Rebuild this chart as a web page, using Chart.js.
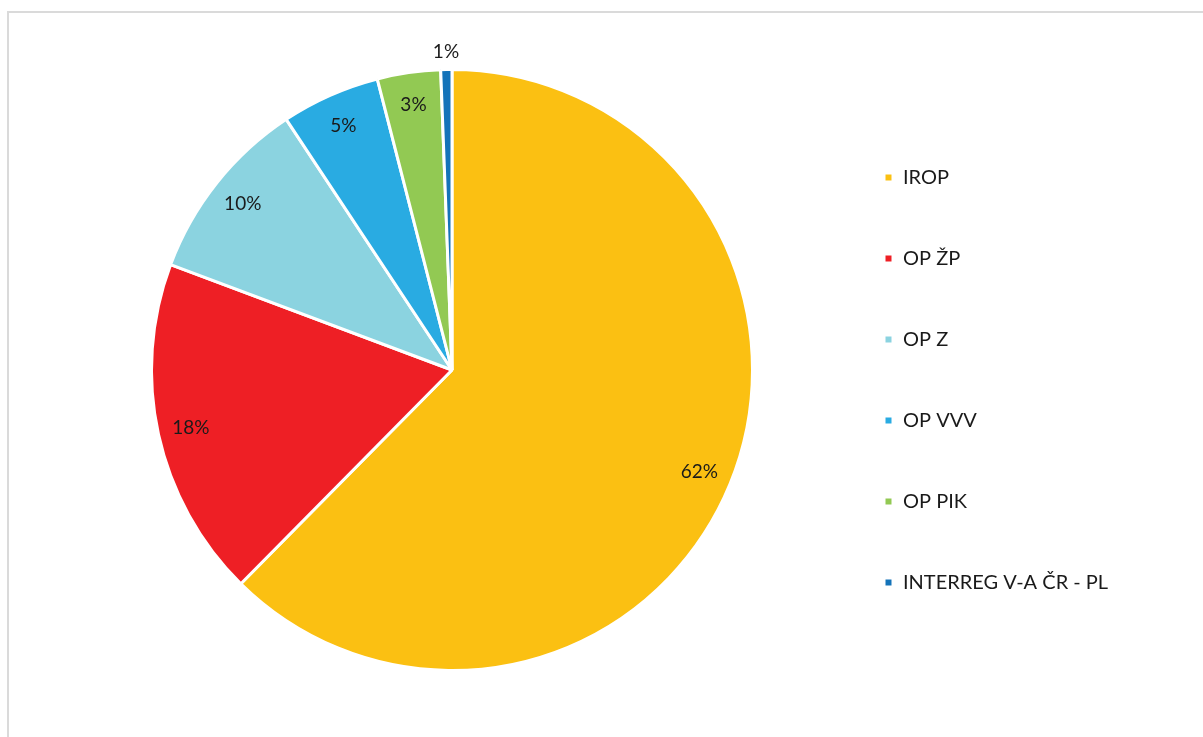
<!DOCTYPE html>
<html>
<head>
<meta charset="utf-8">
<script src="https://cdn.jsdelivr.net/npm/chart.js@4.4.1/dist/chart.umd.min.js"></script>
<style>
  html, body { margin: 0; padding: 0; background: #fff; overflow: hidden; }
  #frame { position: absolute; left: 7px; top: 11px; width: 1300px; height: 800px;
           border-top: 2px solid #dadada; border-left: 2px solid #dadada; }
  #wrap { position: absolute; left: 0; top: 0; width: 1203px; height: 737px; }
</style>
</head>
<body>
<div id="frame"></div>
<div id="wrap"><canvas id="chart"></canvas></div>
<script>
// shares of allocated funds by programme (%)
const programs = ['IROP', 'OP ŽP', 'OP Z', 'OP VVV', 'OP PIK', 'INTERREG V-A ČR - PL'];
const shares = [62.4, 18.3, 10.0, 5.3, 3.4, 0.6];
const sliceColors = ['#fbc012', '#ee1f25', '#8bd3e0', '#29abe2', '#92c953', '#1473b9'];

const FONT = 'Lato, "Open Sans", sans-serif';
const LEGEND_SIZE = 20;
const LEGEND_PAD = 61;

// legend width so that the pie stays where it is in the picture
const mctx = document.createElement('canvas').getContext('2d');
mctx.font = LEGEND_SIZE + 'px ' + FONT;
let widest = 0;
programs.forEach(function (p) { widest = Math.max(widest, mctx.measureText(p).width); });
const legendWidth = LEGEND_PAD + 9 + LEGEND_SIZE / 2 + widest + 10;
const legendLeft = 884 - LEGEND_PAD;
const padRight = Math.max(0, 1203 - legendLeft - legendWidth);
const padLeft = 452 * 2 - legendLeft;

// percentage labels on slices
const sliceLabels = {
	id: 'sliceLabels',
	afterDatasetsDraw(chart) {
		const ctx = chart.ctx;
		const meta = chart.getDatasetMeta(0);
		const total = shares.reduce((a, b) => a + b, 0);
		ctx.save();
		ctx.font = '19px ' + FONT;
		ctx.fillStyle = '#1a1a1a';
		ctx.textAlign = 'center';
		ctx.textBaseline = 'middle';
		meta.data.forEach(function (arc, i) {
			const p = arc.getProps(['x', 'y', 'startAngle', 'endAngle', 'outerRadius'], true);
			const mid = (p.startAngle + p.endAngle) / 2;
			let dist = p.outerRadius * 0.89;
			if (shares[i] / total < 0.02)
				dist = p.outerRadius + 18;
			const x = p.x + Math.cos(mid) * dist;
			const y = p.y + Math.sin(mid) * dist;
			ctx.fillText(Math.round(shares[i] / total * 100) + '%', x, y);
		});
		ctx.restore();
	}
};

const chart = new Chart(document.getElementById('chart'), {
	type: 'pie',
	data: {
		labels: programs,
		datasets: [{
			data: shares,
			backgroundColor: sliceColors,
			borderColor: '#ffffff',
			borderWidth: 3
		}]
	},
	options: {
		responsive: true,
		maintainAspectRatio: false,
		animation: false,
		layout: { padding: { top: 68, bottom: 65, left: padLeft, right: padRight } },
		plugins: {
			tooltip: { enabled: false },
			legend: {
				position: 'right',
				title: { display: true, text: ' ', font: { size: 10 }, padding: 4 },
				labels: {
					boxWidth: 9,
					boxHeight: 9,
					padding: LEGEND_PAD,
					color: '#1a1a1a',
					font: { family: FONT, size: LEGEND_SIZE }
				}
			}
		}
	},
	plugins: [sliceLabels]
});
</script>
</body>
</html>
